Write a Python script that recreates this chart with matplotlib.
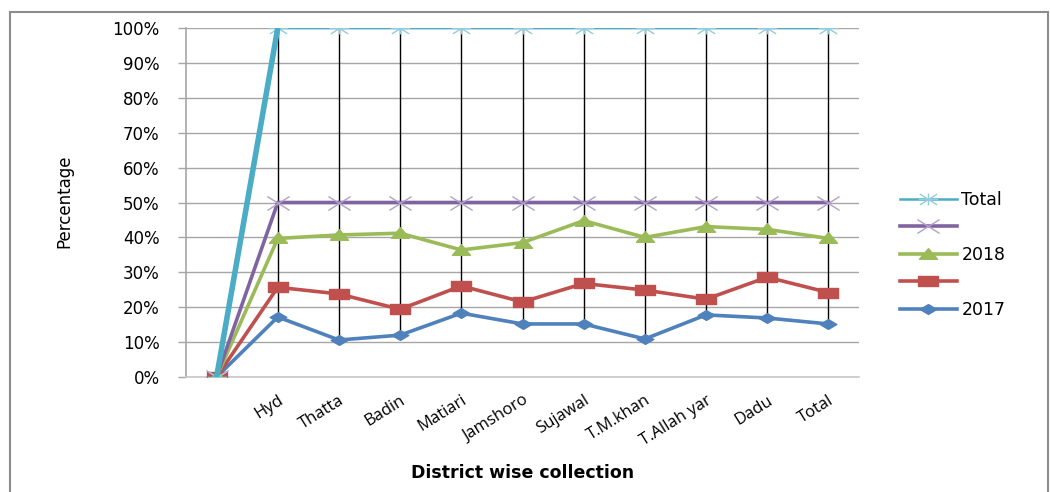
import matplotlib
matplotlib.use("Agg")
import matplotlib.pyplot as plt
import numpy as np
from matplotlib.path import Path
from matplotlib.patches import Rectangle

plt.rcParams.update({
    "font.family": ["DejaVu Sans"],
    "figure.dpi": 100,
})

districts = ["", "Hyd", "Thatta", "Badin", "Matiari", "Jamshoro", "Sujawal",
             "T.M.khan", "T.Allah yar", "Dadu", "Total"]

pct_2017 = [0, 17.2, 10.6, 12.0, 18.3, 15.2, 15.2, 10.9, 17.8, 16.9, 15.2]
pct_red = [0, 25.7, 23.8, 19.4, 26.1, 21.5, 26.8, 24.9, 22.3, 28.6, 24.2]
pct_2018 = [0, 39.7, 40.7, 41.2, 36.4, 38.5, 44.8, 40.0, 43.1, 42.3, 39.7]
pct_purple = [0, 50, 50, 50, 50, 50, 50, 50, 50, 50, 50]
pct_total = [0, 100, 100, 100, 100, 100, 100, 100, 100, 100, 100]

yticks = np.arange(0, 101, 10)

# wide marker shapes (chart is rendered stretched horizontally)
SQUARE = Path([(-0.9, -0.5), (0.9, -0.5), (0.9, 0.5), (-0.9, 0.5), (-0.9, -0.5)],
              [Path.MOVETO, Path.LINETO, Path.LINETO, Path.LINETO, Path.CLOSEPOLY])
DIAMOND = Path([(-0.85, 0), (0, 0.5), (0.85, 0), (0, -0.5), (-0.85, 0)],
               [Path.MOVETO, Path.LINETO, Path.LINETO, Path.LINETO, Path.CLOSEPOLY])
TRIANGLE = Path([(-0.85, -0.45), (0.85, -0.45), (0, 0.55), (-0.85, -0.45)],
                [Path.MOVETO, Path.LINETO, Path.LINETO, Path.CLOSEPOLY])
CROSS = Path([(-0.8, -0.5), (0.8, 0.5), (-0.8, 0.5), (0.8, -0.5)],
             [Path.MOVETO, Path.LINETO, Path.MOVETO, Path.LINETO])
STAR = Path([(-0.8, -0.5), (0.8, 0.5), (-0.8, 0.5), (0.8, -0.5),
             (0, -0.55), (0, 0.55), (-0.9, 0), (0.9, 0)],
            [Path.MOVETO, Path.LINETO, Path.MOVETO, Path.LINETO,
             Path.MOVETO, Path.LINETO, Path.MOVETO, Path.LINETO])

BLUE = "#4F81BD"
RED = "#C0504D"
GREEN = "#9BBB59"
PURPLE = "#8064A2"
CYAN = "#4BACC6"

fig = plt.figure(figsize=(10.5, 4.92))
fig.patches.append(Rectangle((10 / 1050, -0.1), 1038 / 1050, 1.1 - 12 / 492,
                             transform=fig.transFigure, fill=False,
                             edgecolor="#8c8c8c", linewidth=1.5))
ax = fig.add_axes([186 / 1050, 1 - 377 / 492, 673 / 1050, 349 / 492])

x = np.arange(len(districts))
series = [pct_2017, pct_red, pct_2018, pct_purple, pct_total]

# high-low lines between lowest and highest series at each category
lows = np.min(series, axis=0)
highs = np.max(series, axis=0)
ax.vlines(x, lows, highs, color="black", linewidth=1.0, zorder=2)

l_2017, = ax.plot(x, pct_2017, color=BLUE, linewidth=2.6, marker=DIAMOND,
                  markersize=12, markerfacecolor=BLUE, markeredgecolor=BLUE, zorder=3)
l_red, = ax.plot(x, pct_red, color=RED, linewidth=2.6, marker=SQUARE,
                 markersize=14, markerfacecolor=RED, markeredgecolor=RED, zorder=3)
l_2018, = ax.plot(x, pct_2018, color=GREEN, linewidth=2.6, marker=TRIANGLE,
                  markersize=13, markerfacecolor=GREEN, markeredgecolor=GREEN, zorder=3)
l_purple, = ax.plot(x, pct_purple, color=PURPLE, linewidth=2.6, marker=CROSS,
                    markersize=16, markerfacecolor="none", markeredgecolor="#B3A2C7",
                    markeredgewidth=1.0, zorder=3)
l_total, = ax.plot(x, pct_total, color=CYAN, linewidth=1.8, marker=STAR,
                   markersize=14, markerfacecolor="none", markeredgecolor="#93CDDD",
                   markeredgewidth=1.0, zorder=3)
# thicker rising segment of the total line
ax.plot(x[:2], pct_total[:2], color=CYAN, linewidth=4.0, zorder=3)

ax.set_xlim(-0.5, len(districts) - 0.5)
ax.set_ylim(0, 100)
ax.set_yticks(yticks)
ax.set_yticklabels([f"{v}%" for v in yticks], fontsize=12)
ax.set_xticks(x)
ax.set_xticklabels(districts, rotation=32, ha="right", va="top",
                   rotation_mode="anchor", fontsize=12,
                   family=["Open Sans", "DejaVu Sans"])
ax.tick_params(axis="y", length=6, color="#a6a6a6", width=1.0, pad=13)
ax.tick_params(axis="x", length=0, pad=11)

ax.yaxis.grid(True, color="#a6a6a6", linewidth=1.0)
ax.set_axisbelow(True)
for side in ["top", "right"]:
    ax.spines[side].set_visible(False)
ax.spines["left"].set_color("#a6a6a6")
ax.spines["bottom"].set_color("#c8c8c8")
ax.spines["left"].set_linewidth(1.2)
ax.spines["bottom"].set_linewidth(1.2)

ax.set_ylabel("Percentage", fontsize=12,
              family=["Liberation Sans Narrow", "DejaVu Sans"])
ax.yaxis.set_label_coords(-0.168, 0.505)
ax.set_xlabel("District wise collection", fontsize=12.5, fontweight="bold",
              family=["DejaVu Sans"])
ax.xaxis.set_label_coords(0.5, -0.25)

fig.legend(handles=[l_total, l_purple, l_2018, l_red, l_2017],
           labels=["Total", " ", "2018", " ", "2017"],
           loc="center left", bbox_to_anchor=(884 / 1050, 1 - 255 / 492),
           frameon=False, fontsize=12.5, handlelength=3.3, handletextpad=0.25,
           labelspacing=0.55)

fig.savefig("out.png", dpi=100)
